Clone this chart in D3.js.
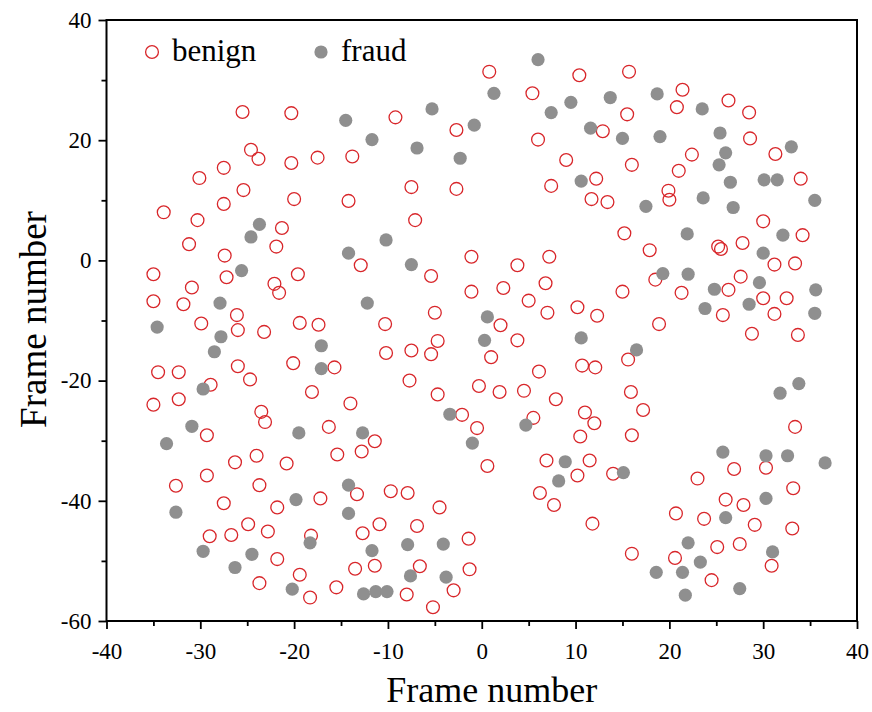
<!DOCTYPE html>
<html>
<head>
<meta charset="utf-8">
<script src="https://cdn.jsdelivr.net/npm/d3@7"></script>
<style>
  html, body { margin: 0; padding: 0; background: #fff; }
  svg { display: block; }
  text { font-family: "Liberation Serif", "Times New Roman", serif; fill: #000; }
</style>
</head>
<body>
<svg id="chart" width="872" height="712"></svg>
<script>
// Embedding coordinates (frame number vs frame number) for the two classes
const benign = [
  [-25.5,24.7],[-20.3,24.5],[-24.6,18.4],[-23.8,16.9],[-20.3,16.2],[-27.5,15.4],[-30.1,13.7],
  [-25.4,11.7],[-20.0,10.2],[-27.5,9.4],[-33.9,8.0],[-30.3,6.7],[-21.3,5.4],[-31.2,2.7],
  [-21.9,2.3],[-27.4,0.8],[-35.0,-2.3],[-27.2,-2.8],[-19.6,-2.3],[-30.9,-4.5],[-22.1,-3.9],
  [-21.6,-5.4],[-35.0,-6.8],[-31.8,-7.3],[-26.1,-9.1],[-19.4,-10.4],[-29.9,-10.5],[-26.0,-11.6],
  [-23.2,-11.9],[-26.0,-17.6],[-20.1,-17.1],[-34.5,-18.6],[-32.3,-18.6],[-24.7,-19.8],[-28.9,-20.7],
  [-35.0,-24.0],[-32.3,-23.1],[-23.5,-25.2],[-23.1,-26.9],[-29.3,-29.1],[-26.3,-33.6],[-24.0,-32.5],
  [-20.8,-33.8],[-29.3,-35.8],[-32.6,-37.5],[-23.7,-37.4],[-27.5,-40.4],[-21.8,-41.1],[-24.9,-43.9],
  [-22.8,-45.1],[-29.0,-45.9],[-26.7,-45.7],[-21.8,-49.7],[-23.7,-53.7],[-19.4,-52.3],
  [-9.2,23.8],[-2.7,21.7],[-17.5,17.1],[-13.8,17.3],[-7.5,12.2],[-2.7,11.9],[-14.2,9.9],
  [-7.1,6.7],[-12.9,-0.8],[-5.4,-2.6],[-1.1,0.6],[-1.1,-5.2],[-5.0,-8.7],[-17.4,-10.7],
  [-10.3,-10.6],[-4.7,-13.4],[-10.2,-15.4],[-7.5,-15.0],[-5.4,-15.6],[-15.7,-17.8],[-7.7,-20.0],
  [-0.3,-20.9],[-18.1,-21.9],[-14.0,-23.8],[-4.7,-22.3],[-2.1,-25.7],[-16.3,-27.7],[-11.4,-30.1],
  [-15.4,-32.3],[-12.8,-31.8],[-0.5,-27.9],[0.6,-34.2],[-17.2,-39.6],[-13.3,-38.9],[-9.7,-38.4],
  [-7.9,-38.7],[-4.5,-41.1],[-18.2,-45.8],[-12.7,-45.4],[-10.9,-43.9],[-6.9,-44.2],[-1.4,-46.3],
  [-13.5,-51.3],[-11.4,-50.8],[-6.6,-50.9],[-1.3,-51.4],[-18.3,-56.1],[-15.5,-54.4],[-8.0,-55.6],
  [-3.0,-54.9],[-5.2,-57.7],
  [0.8,31.4],[10.4,30.8],[15.7,31.4],[5.4,27.8],[15.5,24.3],[20.8,25.5],[12.9,21.5],
  [6.0,20.1],[9.0,16.7],[16.0,15.9],[21.0,14.9],[7.4,12.4],[12.2,13.6],[11.7,10.2],
  [13.4,9.7],[19.9,11.6],[20.0,10.1],[15.2,4.5],[17.9,1.7],[7.2,0.6],[3.8,-0.8],
  [18.5,-3.2],[2.3,-4.6],[6.8,-3.8],[15.0,-5.2],[5.0,-6.7],[7.0,-8.7],[10.2,-7.8],
  [12.3,-9.2],[2.0,-10.8],[18.9,-10.6],[3.8,-13.3],[15.6,-16.5],[1.0,-16.1],[10.7,-17.5],
  [12.1,-17.8],[6.1,-18.5],[1.9,-21.9],[4.5,-21.7],[7.9,-23.1],[15.9,-21.9],[17.2,-24.9],
  [5.5,-26.2],[11.0,-25.3],[12.0,-27.1],[10.5,-29.3],[16.0,-29.1],[6.9,-33.3],[11.5,-33.3],
  [10.2,-35.8],[14.0,-35.5],[6.2,-38.7],[7.7,-40.7],[11.8,-43.8],[16.0,-48.8],
  [21.4,28.4],[26.3,26.6],[28.5,24.6],[28.6,20.3],[22.4,17.6],[31.3,17.7],[34.0,13.6],
  [30.0,6.5],[34.2,4.2],[25.2,2.3],[25.5,1.9],[27.8,2.9],[31.2,-0.7],[33.4,-0.5],
  [27.6,-2.7],[26.3,-4.9],[21.3,-5.4],[30.0,-6.3],[32.5,-6.3],[25.7,-9.1],[31.2,-8.9],
  [28.8,-12.2],[33.7,-12.4],[33.4,-27.7],[26.9,-34.7],[30.3,-34.5],[23.0,-36.3],[33.2,-37.9],
  [26.0,-39.8],[27.9,-40.7],[20.7,-42.1],[23.7,-43.0],[29.1,-44.0],[33.1,-44.6],[25.1,-47.7],
  [27.5,-47.2],[30.9,-50.8],[20.6,-49.5],[24.5,-53.2]
];

const fraud = [
  [-23.7,6.0],[-24.6,3.9],[-25.6,-1.7],[-27.9,-7.1],[-34.6,-11.1],[-27.8,-12.7],[-28.5,-15.2],
  [-29.7,-21.4],[-30.9,-27.6],[-33.6,-30.5],[-19.5,-28.7],[-19.8,-39.8],[-32.6,-41.9],[-29.7,-48.4],
  [-24.5,-48.9],[-26.3,-51.1],[-20.2,-54.7],
  [-14.5,23.3],[-5.3,25.2],[-0.8,22.5],[-11.7,20.1],[-6.9,18.7],[-2.3,17.0],[-10.2,3.4],
  [-14.2,1.2],[-7.5,-0.7],[-12.2,-7.1],[0.6,-9.4],[0.3,-13.3],[-17.1,-14.2],[-17.1,-18.0],
  [-3.4,-25.6],[-12.7,-28.7],[-1.0,-30.4],[-14.2,-37.4],[-14.2,-42.1],[-18.3,-47.0],[-11.7,-48.3],
  [-7.9,-47.3],[-4.1,-47.2],[-7.6,-52.5],[-3.8,-52.7],[-12.6,-55.5],[-11.3,-55.1],[-10.1,-55.1],
  [6.0,33.4],[1.3,27.8],[9.5,26.3],[13.7,27.1],[18.7,27.7],[7.4,24.6],[11.6,22.0],
  [15.0,20.3],[19.0,20.6],[10.6,13.2],[17.5,9.0],[19.3,-2.2],[10.6,-12.9],[16.5,-14.9],
  [4.7,-27.4],[8.9,-33.5],[8.2,-36.7],[15.1,-35.3],[18.6,-51.9],
  [23.5,25.2],[25.4,21.2],[26.0,17.9],[25.3,15.9],[33.0,18.9],[26.5,13.0],[30.1,13.4],
  [31.5,13.4],[23.6,10.4],[26.8,8.8],[35.5,10.0],[21.9,4.4],[32.1,4.2],[30.0,1.2],
  [22.0,-2.3],[29.6,-3.7],[24.8,-4.8],[35.6,-4.9],[28.5,-7.3],[23.8,-8.0],[35.5,-8.8],
  [33.8,-20.5],[31.8,-22.1],[25.7,-31.9],[30.3,-32.5],[32.6,-32.5],[36.6,-33.7],[30.3,-39.6],
  [26.0,-42.8],[22.0,-47.0],[31.0,-48.5],[23.3,-50.2],[21.4,-51.9],[21.7,-55.7],[27.5,-54.6]
];

const xMajor = [-40, -30, -20, -10, 0, 10, 20, 30, 40];
const xMinor = [-35, -25, -15, -5, 5, 15, 25, 35];
const yMajor = [-60, -40, -20, 0, 20, 40];
const yMinor = [-50, -30, -10, 10, 30];
const axisTitle = "Frame number";
const legendItems = [
  { label: "benign", kind: "benign" },
  { label: "fraud", kind: "fraud" }
];

const RED = "#d8262a";
const GREY = "#8f8f8f";
const SERIF = '"Liberation Serif", "Times New Roman", serif';

const svg = d3.select("#chart");
svg.append("rect").attr("width", 872).attr("height", 712).attr("fill", "#fff");

const plotL = 106.5, plotR = 857, plotT = 20, plotB = 621;
const x = d3.scaleLinear().domain([-40, 40]).range([plotL, plotR]);
const y = d3.scaleLinear().domain([-60, 40]).range([plotB, plotT]);

// Axes: labelled major ticks plus shorter unlabelled minor ticks
function styleAxis(g) {
  g.attr("font-family", SERIF).attr("font-size", 23);
  g.select(".domain").remove();
  g.selectAll(".tick line").attr("stroke", "#000").attr("stroke-width", 1.8);
  g.selectAll(".tick text").attr("fill", "#000");
}

const fmt = d => String(d);

svg.append("g").attr("transform", `translate(0,${plotB})`)
  .call(d3.axisBottom(x).tickValues(xMajor).tickSize(8).tickPadding(14).tickFormat(fmt))
  .call(styleAxis);
svg.append("g").attr("transform", `translate(0,${plotB})`)
  .call(d3.axisBottom(x).tickValues(xMinor).tickSize(5).tickFormat(""))
  .call(styleAxis);

svg.append("g").attr("transform", `translate(${plotL},0)`)
  .call(d3.axisLeft(y).tickValues(yMajor).tickSize(8).tickPadding(7).tickFormat(fmt))
  .call(styleAxis);
svg.append("g").attr("transform", `translate(${plotL},0)`)
  .call(d3.axisLeft(y).tickValues(yMinor).tickSize(5).tickFormat(""))
  .call(styleAxis);

// Plot frame
svg.append("rect")
  .attr("x", plotL).attr("y", plotT)
  .attr("width", plotR - plotL).attr("height", plotB - plotT)
  .attr("fill", "none").attr("stroke", "#000").attr("stroke-width", 2);

// Points
svg.append("g").selectAll("circle").data(benign).join("circle")
  .attr("cx", d => x(d[0])).attr("cy", d => y(d[1]))
  .attr("r", 6.4)
  .attr("fill", "none").attr("stroke", RED).attr("stroke-width", 1.3);

svg.append("g").selectAll("circle").data(fraud).join("circle")
  .attr("cx", d => x(d[0])).attr("cy", d => y(d[1]))
  .attr("r", 6.6)
  .attr("fill", GREY);

// Legend
const legend = svg.append("g");
const legendX = [152, 321];
legendItems.forEach((it, i) => {
  const gx = legendX[i];
  if (it.kind === "benign") {
    legend.append("circle").attr("cx", gx).attr("cy", 52).attr("r", 6.4)
      .attr("fill", "none").attr("stroke", RED).attr("stroke-width", 1.3);
  } else {
    legend.append("circle").attr("cx", gx).attr("cy", 52).attr("r", 6.6).attr("fill", GREY);
  }
  legend.append("text").attr("x", gx + 20).attr("y", 61)
    .attr("font-family", SERIF).attr("font-size", 31).text(it.label);
});

// Axis titles
svg.append("text")
  .attr("x", (plotL + plotR) / 2 + 10).attr("y", 702)
  .attr("text-anchor", "middle")
  .attr("font-family", SERIF).attr("font-size", 36)
  .text(axisTitle);

svg.append("text")
  .attr("transform", `translate(46,${(plotT + plotB) / 2 - 1}) rotate(-90)`)
  .attr("text-anchor", "middle")
  .attr("font-family", SERIF).attr("font-size", 37)
  .text(axisTitle);
</script>
</body>
</html>
